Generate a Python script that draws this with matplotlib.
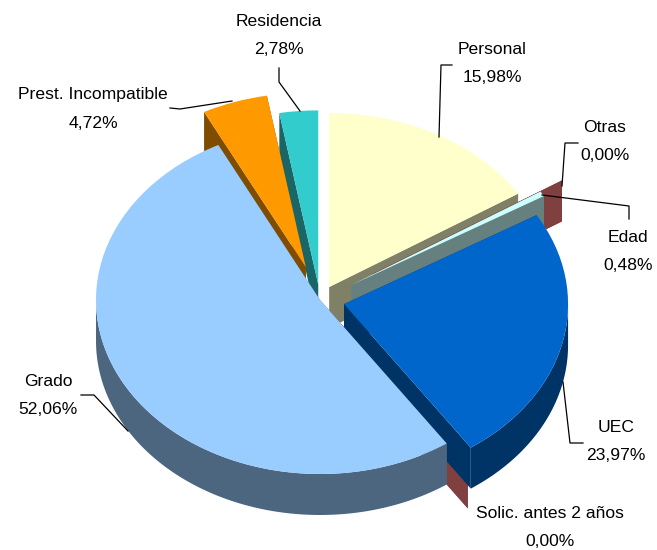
import numpy as np
import matplotlib
matplotlib.use('Agg')
import matplotlib.pyplot as plt
from matplotlib.colors import to_rgb

plt.rcParams['font.family'] = ['Liberation Sans', 'DejaVu Sans']

categories = ['Personal', 'Otras', 'Edad', 'UEC', 'Solic. antes 2 años', 'Grado',
              'Prest. Incompatible', 'Residencia']
values = [15.98, 0.00, 0.48, 23.97, 0.00, 52.06, 4.72, 2.78]
value_labels = ['15,98%', '0,00%', '0,48%', '23,97%', '0,00%', '52,06%', '4,72%', '2,78%']
explode = [0.085, 0.28, 0.165, 0.11, 0.167, 0.0, 0.2, 0.09]
colors = ['#FFFFCC', '#804040', '#CCFFFF', '#0066CC', '#804040', '#99CCFF', '#FF9900', '#33CCCC']

# pixel layout of the ellipse
W, H = 657, 550
cx, cy, rx, ry = 320, 300, 224, 174
depth = 41 / ry


def darker(c):
    if c == '#804040':
        return c
    return tuple(0.5 * v for v in to_rgb(c))


fig = plt.figure(figsize=(W / 100, H / 100), dpi=100)
ax = fig.add_axes([0, 0, 1, 1])
wedges, _ = ax.pie(values, explode=explode, colors=colors, startangle=90,
                   counterclock=False, wedgeprops={'linewidth': 0})
ax.set_aspect('auto')
ax.set_xlim(-cx / rx, (W - cx) / rx)
ax.set_ylim(-(H - cy) / ry, cy / ry)
ax.axis('off')

# back to front; Grado goes last, its top covers the cut faces behind it
order = [7, 6, 0, 1, 2, 4, 3, 5]
z = 1
for i in order:
    w = wedges[i]
    x0, y0 = w.center
    a1, a2 = np.radians(w.theta1), np.radians(w.theta2)
    side = darker(colors[i])
    for a in (a1, a2):
        xs = [x0, x0 + np.cos(a), x0 + np.cos(a), x0]
        ys = [y0, y0 + np.sin(a), y0 + np.sin(a) - depth, y0 - depth]
        ax.fill(xs, ys, color=side, lw=0, zorder=z)
    # outer wall, only the front part of the rim
    t = np.linspace(a1, a2, 200)
    t = t[np.sin(t) < 0]
    if len(t) > 1:
        xs = x0 + np.cos(t)
        ys = y0 + np.sin(t)
        ax.fill(np.r_[xs, xs[::-1]], np.r_[ys, ys[::-1] - depth], color=side, lw=0, zorder=z)
    w.set_zorder(z + 1)
    z += 2

# labels and leaders are laid out in pixels
lab = fig.add_axes([0, 0, 1, 1], facecolor='none')
lab.set_xlim(0, W)
lab.set_ylim(H, 0)
lab.axis('off')

label_pos = [(492, 50), (605, 128), (628, 238), (616, 428), (550, 513), (48, 381), (93, 95), (279, 22)]
leaders = [
    ([439, 441, 452], [137, 65, 65]),
    ([562, 565, 578], [186, 143, 143]),
    ([542, 629, 629], [195, 206, 219]),
    ([563, 570, 583], [382, 443, 443]),
    None,
    ([81, 94, 128], [395, 395, 431]),
    ([170, 180, 232], [108, 109, 101]),
    ([279, 279, 300], [68, 82, 111]),
]
for name, val, pos, leader in zip(categories, value_labels, label_pos, leaders):
    lab.text(pos[0], pos[1], name, ha='center', va='center', fontsize=12.6, color='black')
    lab.text(pos[0], pos[1] + 28, val, ha='center', va='center', fontsize=12.6, color='black')
    if leader:
        lab.plot(leader[0], leader[1], color='black', lw=0.9)

fig.savefig('out.png', dpi=100)
